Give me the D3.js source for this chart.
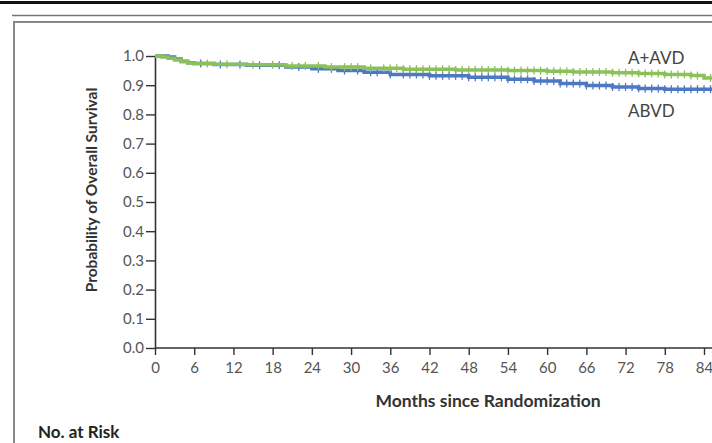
<!DOCTYPE html>
<html>
<head>
<meta charset="utf-8">
<script src="https://cdn.jsdelivr.net/npm/d3@7"></script>
<style>
  html, body { margin: 0; padding: 0; background: #fff; }
  svg { display: block; }
</style>
</head>
<body>
<svg id="chart" width="712" height="443"></svg>
<script>
// Kaplan-Meier steps (month, survival)
var aavdTimes = [0, 1, 2, 3, 4, 5, 6, 9, 14, 20, 26, 32, 38, 46, 54, 60, 64, 70, 74, 78, 82, 84, 86]
var aavdSurv = [1.0, 0.997, 0.992, 0.986, 0.98, 0.976, 0.974, 0.972, 0.970, 0.966, 0.962, 0.958, 0.955, 0.952, 0.950, 0.948, 0.945, 0.943, 0.940, 0.937, 0.933, 0.925, 0.922]
var abvdTimes = [0, 1, 2, 3, 4, 5, 6, 9, 14, 20, 24, 28, 32, 36, 42, 48, 54, 58, 62, 66, 70, 74, 78, 86]
var abvdSurv = [1.0, 1.0, 0.997, 0.99, 0.982, 0.977, 0.974, 0.971, 0.968, 0.962, 0.956, 0.950, 0.944, 0.937, 0.932, 0.927, 0.920, 0.914, 0.906, 0.899, 0.894, 0.889, 0.886, 0.884]

// censoring marks (months)
var aavdCensor = [8, 11, 15, 18, 21, 23, 25, 27, 29, 30, 31, 33, 35, 36, 37, 38, 39, 40, 41, 42, 43, 44, 45, 46, 47, 48, 49, 50, 51, 52, 53, 54, 55, 56, 57, 58, 59, 60, 61, 62, 63, 64, 65, 66, 67, 68, 69, 70, 71, 72, 73, 74, 75, 76, 77, 78, 79, 80, 81, 82, 83, 85]
var abvdCensor = [7, 10, 13, 16, 19, 22, 25, 27, 29, 31, 33, 34, 36, 38, 39, 40, 41, 42, 43, 44, 45, 46, 47, 48, 49, 50, 51, 52, 53, 54, 55, 56, 57, 58, 59, 60, 61, 62, 63, 64, 65, 66, 67, 68, 69, 70, 71, 72, 73, 74, 75, 76, 77, 78, 79, 80, 81, 82, 83, 84, 85]

var xTicks = [0, 6, 12, 18, 24, 30, 36, 42, 48, 54, 60, 66, 72, 78, 84]
var yTicks = [0, 0.1, 0.2, 0.3, 0.4, 0.5, 0.6, 0.7, 0.8, 0.9, 1.0]

var green = "#8cc15a"
var blue = "#4d78c3"

var svg = d3.select("#chart")

// page frame
svg.append("rect").attr("x", 0).attr("y", 1).attr("width", 712).attr("height", 3).attr("fill", "#111")
svg.append("line").attr("x1", 12).attr("x2", 712).attr("y1", 15.5).attr("y2", 15.5)
  .attr("stroke", "#777").attr("stroke-width", 1.5)
svg.append("path").attr("d", "M14,443 V22 H712")
  .attr("fill", "none").attr("stroke", "#888").attr("stroke-width", 2)

var x = d3.scaleLinear().domain([0, 84]).range([155, 704])
var y = d3.scaleLinear().domain([0, 1]).range([348, 56])

var font = "Lato, 'Open Sans', sans-serif"

// y axis
var yAxis = svg.append("g").attr("transform", "translate(155,0)")
  .call(d3.axisLeft(y).tickValues(yTicks).tickFormat(d3.format(".1f")).tickSize(9).tickSizeOuter(0))
yAxis.select(".domain").attr("stroke", "#333").attr("stroke-width", 1.6)
yAxis.selectAll(".tick line").attr("stroke", "#333").attr("stroke-width", 1.4)
yAxis.selectAll(".tick text").attr("x", -11).attr("fill", "#555")
  .style("font-family", font).style("font-size", "15px")

// x axis, line runs off the right edge
var xAxis = svg.append("g").attr("transform", "translate(0,348)")
  .call(d3.axisBottom(x).tickValues(xTicks).tickSize(7).tickSizeOuter(0))
xAxis.select(".domain").attr("d", "M155,0H712").attr("stroke", "#333").attr("stroke-width", 1.6)
xAxis.selectAll(".tick line").attr("stroke", "#333").attr("stroke-width", 1.4)
xAxis.selectAll(".tick text").attr("y", 14).attr("fill", "#555")
  .style("font-family", font).style("font-size", "15px")

// survival curves
var line = d3.line().curve(d3.curveStepAfter)
  .x(function(d) { return x(d[0]) })
  .y(function(d) { return y(d[1]) })

function stepAt(times, surv, t) {
  var i = d3.bisectRight(times, t) - 1
  return surv[Math.max(0, i)]
}

function drawCurve(times, surv, censor, color) {
  var pts = times.map(function(t, i) { return [t, surv[i]] })
  svg.append("path").datum(pts)
    .attr("d", line)
    .attr("fill", "none").attr("stroke", color).attr("stroke-width", 3.5)
  svg.append("g").selectAll("line").data(censor).join("line")
    .attr("x1", function(d) { return x(d) }).attr("x2", function(d) { return x(d) })
    .attr("y1", function(d) { return y(stepAt(times, surv, d)) - 4 })
    .attr("y2", function(d) { return y(stepAt(times, surv, d)) + 4 })
    .attr("stroke", color).attr("stroke-width", 1.3)
}

drawCurve(abvdTimes, abvdSurv, abvdCensor, blue)
drawCurve(aavdTimes, aavdSurv, aavdCensor, green)

// curve labels
svg.append("text").attr("x", 628).attr("y", 64).text("A+AVD")
  .attr("fill", "#444").style("font-family", font).style("font-size", "17px")
svg.append("text").attr("x", 628).attr("y", 117).text("ABVD")
  .attr("fill", "#444").style("font-family", font).style("font-size", "17px")

// axis titles
svg.append("text").attr("transform", "translate(97,190) rotate(-90)")
  .attr("text-anchor", "middle").text("Probability of Overall Survival")
  .attr("fill", "#333").style("font-family", font).style("font-size", "15.5px").style("font-weight", "bold")
svg.append("text").attr("x", 488).attr("y", 407)
  .attr("text-anchor", "middle").text("Months since Randomization")
  .attr("fill", "#333").style("font-family", font).style("font-size", "17.5px").style("font-weight", "bold")
svg.append("text").attr("x", 38).attr("y", 438).text("No. at Risk")
  .attr("fill", "#222").style("font-family", font).style("font-size", "17px").style("font-weight", "bold")
</script>
</body>
</html>
